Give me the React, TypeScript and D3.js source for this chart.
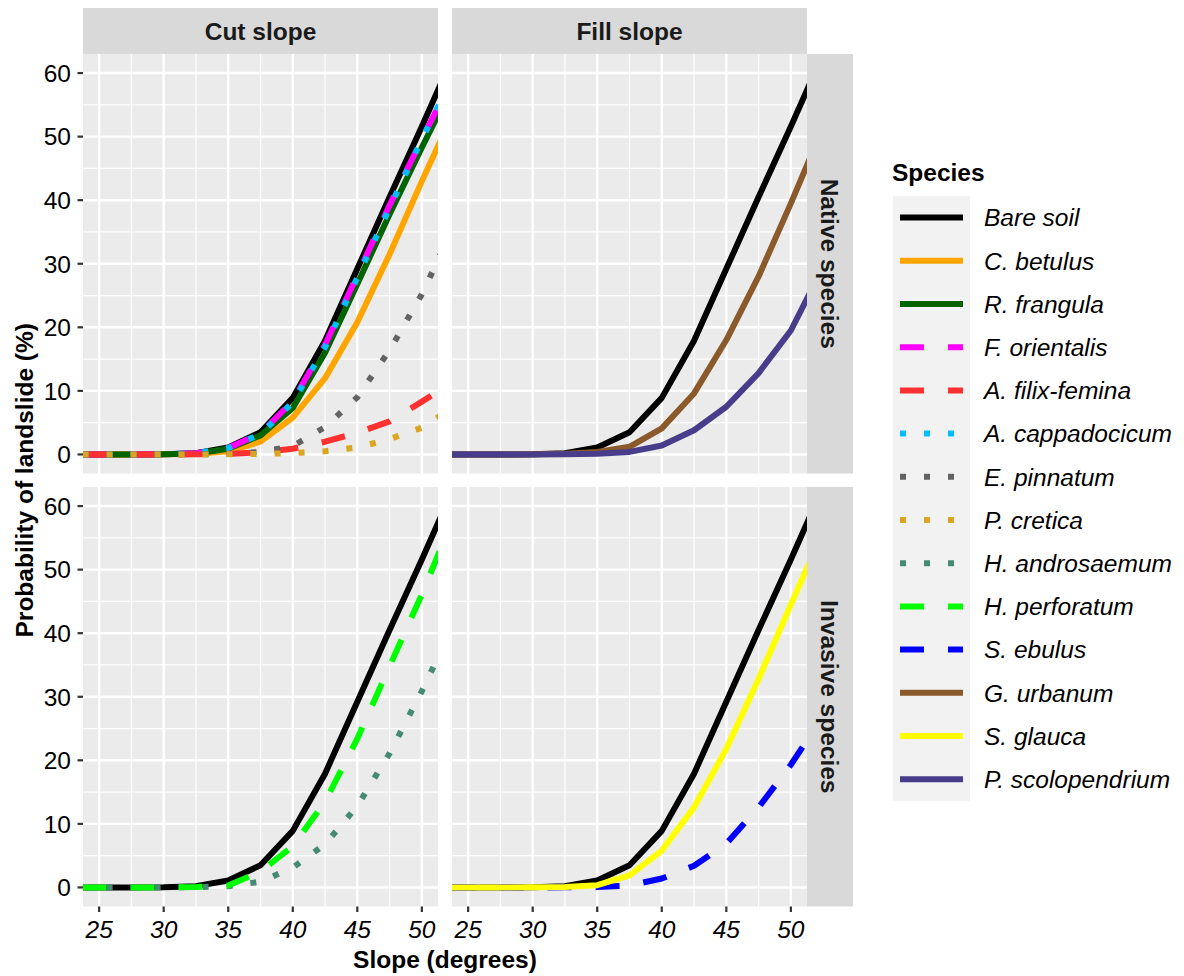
import React from "react";
import * as d3 from "d3";

// ---------- data ----------
const slopes = [20, 22.5, 25, 27.5, 30, 32.5, 35, 37.5, 40, 42.5, 45, 47.5, 50, 52.5];

const bareSoil = [0, 0, 0, 0, 0.03, 0.2, 1.1, 3.5, 8.9, 17.9, 29.2, 40.5, 51.6, 63];
const cBetulus = [0, 0, 0, 0, 0.01, 0.08, 0.5, 2.0, 5.8, 12.0, 20.8, 31.5, 43, 54];
const rFrangula = [0, 0, 0, 0, 0.02, 0.15, 0.9, 3.0, 7.3, 16.0, 26.8, 37.8, 48.3, 58.5];
const fOrientalis = [0, 0, 0, 0, 0.02, 0.18, 1.0, 3.3, 8.4, 17.2, 28.2, 39.2, 49.6, 59.6];
const aFilixFemina = [0, 0, 0, 0, 0, 0.01, 0.08, 0.35, 0.9, 2.0, 3.4, 5.2, 8.3, 11.5];
const aCappadocicum = [0, 0, 0, 0, 0.02, 0.18, 1.0, 3.2, 8.2, 16.9, 27.8, 38.8, 49.6, 59.8];
const ePinnatum = [0, 0, 0, 0, 0, 0.02, 0.1, 0.4, 1.3, 4.3, 9.0, 16.4, 25.2, 36];
const pCretica = [0, 0, 0, 0, 0, 0, 0.02, 0.08, 0.2, 0.5, 1.1, 2.4, 4.2, 7.5];
const hAndrosaemum = [0, 0, 0, 0, 0, 0.03, 0.2, 0.9, 3.1, 6.8, 12.8, 21.1, 30.9, 41.5];
const hPerforatum = [0, 0, 0, 0, 0.01, 0.05, 0.3, 2.5, 6.5, 13.5, 23.4, 34.8, 46.1, 58.5];
const sEbulus = [0, 0, 0, 0, 0, 0.01, 0.05, 0.3, 1.4, 3.4, 6.9, 12.6, 19.3, 27];
const gUrbanum = [0, 0, 0, 0, 0.01, 0.1, 0.4, 1.2, 4.1, 9.6, 18.0, 28.0, 39.5, 51.5];
const sGlauca = [0, 0, 0, 0, 0.01, 0.05, 0.35, 1.9, 5.8, 12.6, 21.8, 32.8, 44.5, 56];
const pScolopendrium = [0, 0, 0, 0, 0, 0.03, 0.1, 0.4, 1.4, 3.8, 7.5, 12.8, 19.5, 29.5];

const speciesNames = [
  "Bare soil", "C. betulus", "R. frangula", "F. orientalis", "A. filix-femina",
  "A. cappadocicum", "E. pinnatum", "P. cretica", "H. androsaemum", "H. perforatum",
  "S. ebulus", "G. urbanum", "S. glauca", "P. scolopendrium",
];
const speciesValues = [
  bareSoil, cBetulus, rFrangula, fOrientalis, aFilixFemina, aCappadocicum, ePinnatum,
  pCretica, hAndrosaemum, hPerforatum, sEbulus, gUrbanum, sGlauca, pScolopendrium,
];
const speciesColors = [
  "#000000", "#FFA500", "#006400", "#FF00FF", "#FF3030", "#00BFFF", "#636363",
  "#DAA520", "#458B74", "#00FF00", "#0000FF", "#8B5A2B", "#FFFF00", "#483D8B",
];
const speciesLinetype = [
  "solid", "solid", "solid", "dashed", "dashed", "dotted", "dotted",
  "dotted", "dotted", "dashed", "dashed", "solid", "solid", "solid",
];

const colFacets = ["Cut slope", "Fill slope"];
const rowFacets = ["Native species", "Invasive species"];
// which species in each panel [row][col]
const panelSpecies = [
  [
    ["Bare soil", "C. betulus", "R. frangula", "F. orientalis", "A. filix-femina", "A. cappadocicum", "E. pinnatum", "P. cretica"],
    ["Bare soil", "G. urbanum", "P. scolopendrium"],
  ],
  [
    ["Bare soil", "H. androsaemum", "H. perforatum"],
    ["Bare soil", "S. ebulus", "S. glauca"],
  ],
];

const xTicks = [25, 30, 35, 40, 45, 50];
const xMinor = [27.5, 32.5, 37.5, 42.5, 47.5];
const yTicks = [0, 10, 20, 30, 40, 50, 60];
const yMinor = [5, 15, 25, 35, 45, 55];

// ---------- layout ----------
const W = 1184, H = 976;
const panelW = 355, panelH = 419.5;
const colX = [83, 452];
const rowY = [54, 487];
const stripH = 46;
const LW = 6;
const FONT = "'Liberation Sans', Arial, sans-serif";
const FS = 24.5;

function dashFor(t: string) {
  if (t === "dashed") return `${4 * LW} ${4 * LW}`;
  if (t === "dotted") return `${1 * LW} ${3 * LW}`;
  return undefined;
}

export default function App() {
  const x = d3.scaleLinear().domain([23.75, 51.25]).range([0, panelW]);
  const y = d3.scaleLinear().domain([-3, 63]).range([panelH, 0]);
  const line = d3
    .line<[number, number]>()
    .x((d) => x(d[0]))
    .y((d) => y(d[1]));

  const panels: React.ReactNode[] = [];
  for (let r = 0; r < 2; r++) {
    for (let c = 0; c < 2; c++) {
      const px = colX[c], py = rowY[r];
      const id = `clip-${r}-${c}`;
      const names = panelSpecies[r][c];
      const order = speciesNames.filter((n) => names.includes(n));
      panels.push(
        <g key={id} transform={`translate(${px},${py})`}>
          <defs>
            <clipPath id={id}>
              <rect x={0} y={0} width={panelW} height={panelH} />
            </clipPath>
          </defs>
          <rect x={0} y={0} width={panelW} height={panelH} fill="#EBEBEB" />
          {yMinor.map((v) => (
            <line key={"ym" + v} x1={0} x2={panelW} y1={y(v)} y2={y(v)} stroke="#FFFFFF" strokeWidth={1.2} />
          ))}
          {xMinor.map((v) => (
            <line key={"xm" + v} y1={0} y2={panelH} x1={x(v)} x2={x(v)} stroke="#FFFFFF" strokeWidth={1.2} />
          ))}
          {yTicks.map((v) => (
            <line key={"yM" + v} x1={0} x2={panelW} y1={y(v)} y2={y(v)} stroke="#FFFFFF" strokeWidth={2.4} />
          ))}
          {xTicks.map((v) => (
            <line key={"xM" + v} y1={0} y2={panelH} x1={x(v)} x2={x(v)} stroke="#FFFFFF" strokeWidth={2.4} />
          ))}
          <g clipPath={`url(#${id})`}>
            {order.map((n) => {
              const i = speciesNames.indexOf(n);
              const pts = slopes.map((s, k) => [s, speciesValues[i][k]] as [number, number]);
              return (
                <path
                  key={n}
                  d={line(pts) || ""}
                  fill="none"
                  stroke={speciesColors[i]}
                  strokeWidth={LW}
                  strokeDasharray={dashFor(speciesLinetype[i])}
                  strokeLinejoin="round"
                  strokeLinecap="butt"
                />
              );
            })}
          </g>
          {/* y axis on left column */}
          {c === 0 &&
            yTicks.map((v) => (
              <g key={"yt" + v}>
                <line x1={-5.5} x2={0} y1={y(v)} y2={y(v)} stroke="#333333" strokeWidth={2.2} />
                <text x={-12} y={y(v)} dy="0.36em" textAnchor="end" fontFamily={FONT} fontSize={FS} fill="#000">
                  {v}
                </text>
              </g>
            ))}
          {/* x axis on bottom row */}
          {r === 1 &&
            xTicks.map((v) => (
              <g key={"xt" + v}>
                <line x1={x(v)} x2={x(v)} y1={panelH} y2={panelH + 5.5} stroke="#333333" strokeWidth={2.2} />
                <text x={x(v)} y={panelH + 31.5} textAnchor="middle" fontFamily={FONT} fontSize={FS} fontStyle="italic" fill="#000">
                  {v}
                </text>
              </g>
            ))}
        </g>
      );
    }
  }

  const legendX = 893, legendTop = 196, keyH = 43.2, keyW = 77;

  return (
    <svg width={W} height={H} style={{ display: "block", position: "absolute", left: 0, top: 0 }}>
      <rect x={0} y={0} width={W} height={H} fill="#FFFFFF" />
      {/* column strips */}
      {colFacets.map((f, c) => (
        <g key={f}>
          <rect x={colX[c]} y={rowY[0] - stripH} width={panelW} height={stripH} fill="#D9D9D9" />
          <text x={colX[c] + panelW / 2} y={rowY[0] - stripH / 2} dy="0.36em" textAnchor="middle" fontFamily={FONT} fontSize={FS} fontWeight="bold" fill="#1A1A1A">
            {f}
          </text>
        </g>
      ))}
      {/* row strips */}
      {rowFacets.map((f, r) => (
        <g key={f}>
          <rect x={colX[1] + panelW} y={rowY[r]} width={stripH} height={panelH} fill="#D9D9D9" />
          <text
            transform={`translate(${colX[1] + panelW + stripH / 2},${rowY[r] + panelH / 2}) rotate(90)`}
            dy="0.36em"
            textAnchor="middle"
            fontFamily={FONT}
            fontSize={FS}
            fontWeight="bold"
            fill="#1A1A1A"
          >
            {f}
          </text>
        </g>
      ))}
      {panels}
      {/* axis titles */}
      <text x={(colX[0] + colX[1] + panelW) / 2} y={967.5} textAnchor="middle" fontFamily={FONT} fontSize={FS} fontWeight="bold" fill="#000">
        Slope (degrees)
      </text>
      <text transform={`translate(33,${(rowY[0] + rowY[1] + panelH) / 2}) rotate(-90)`} textAnchor="middle" fontFamily={FONT} fontSize={FS} fontWeight="bold" fill="#000">
        Probability of landslide (%)
      </text>
      {/* legend */}
      <text x={892} y={181} fontFamily={FONT} fontSize={FS} fontWeight="bold" fill="#000">
        Species
      </text>
      <rect x={legendX} y={legendTop} width={keyW} height={keyH * speciesNames.length} fill="#F2F2F2" />
      {speciesNames.map((n, i) => {
        const cy = legendTop + keyH * i + keyH / 2;
        return (
          <g key={"lg" + n}>
            <line
              x1={900}
              x2={963}
              y1={cy}
              y2={cy}
              stroke={speciesColors[i]}
              strokeWidth={LW}
              strokeDasharray={dashFor(speciesLinetype[i])}
              strokeLinecap="butt"
            />
            <text x={984} y={cy} dy="0.36em" fontFamily={FONT} fontSize={FS} fontStyle="italic" fill="#000">
              {n}
            </text>
          </g>
        );
      })}
    </svg>
  );
}
